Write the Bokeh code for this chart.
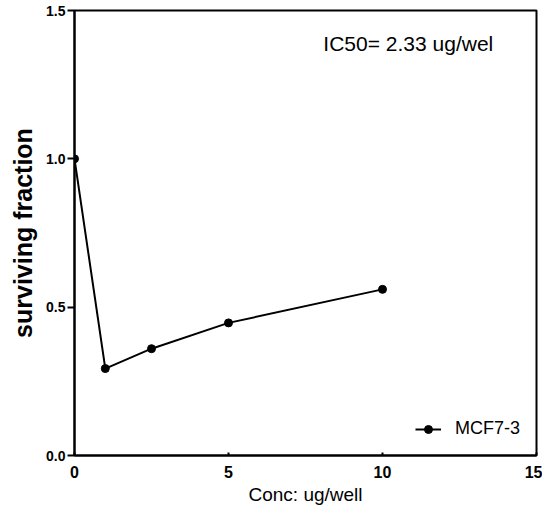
from bokeh.plotting import figure
from bokeh.models import Range1d, FixedTicker, Label, Legend, LegendItem, NumeralTickFormatter
from bokeh.embed import file_html
from bokeh.resources import INLINE

conc = [0, 1, 2.5, 5, 10]
surviving = [1.0, 0.293, 0.36, 0.447, 0.56]
x_ticks = [0, 5, 10, 15]
y_ticks = [0.0, 0.5, 1.0, 1.5]
series_name = "MCF7-3"
annotation = "IC50= 2.33 ug/wel"

p = figure(width=542, height=509, output_backend="svg", toolbar_location=None,
           x_range=Range1d(0, 15), y_range=Range1d(0, 1.5),
           min_border_left=74, min_border_right=6, min_border_top=10, min_border_bottom=54)
p.background_fill_color = "white"
p.border_fill_color = "white"
p.outline_line_color = "black"
p.outline_line_width = 2
p.xgrid.visible = False
p.ygrid.visible = False

line = p.line(conc, surviving, line_color="black", line_width=2)
pts = p.scatter(conc, surviving, size=8, color="black")

p.xaxis.ticker = FixedTicker(ticks=x_ticks)
p.yaxis.ticker = FixedTicker(ticks=y_ticks)
p.yaxis.formatter = NumeralTickFormatter(format="0.0")
for ax in (p.xaxis[0], p.yaxis[0]):
    ax.axis_line_width = 2
    ax.axis_line_color = "black"
    ax.major_tick_line_color = "black"
    ax.major_tick_line_width = 2
    ax.minor_tick_line_color = None
    ax.major_label_text_font = "Liberation Sans"
    ax.major_label_text_font_style = "bold"
    ax.major_label_text_color = "black"
    ax.axis_label_text_font = "Liberation Sans"
    ax.axis_label_text_color = "black"
p.yaxis.major_tick_out = 7
p.yaxis.major_tick_in = 0
p.yaxis.major_label_standoff = 2
p.xaxis.major_tick_out = 0
p.xaxis.major_tick_in = 3
p.xaxis.major_label_standoff = 10
p.yaxis.major_label_text_font_size = "14px"
p.xaxis.major_label_text_font_size = "16px"
p.xaxis.axis_label = "Conc: ug/well"
p.xaxis.axis_label_text_font_size = "19px"
p.xaxis.axis_label_text_font_style = "normal"
p.xaxis.axis_label_standoff = 3
p.yaxis.axis_label = "surviving fraction"
p.yaxis.axis_label_text_font_size = "25px"
p.yaxis.axis_label_text_font_style = "bold"
p.yaxis.axis_label_standoff = 6

lab = Label(x=8.08, y=1.389, text=annotation, text_font="Liberation Sans",
            text_font_size="21px", text_baseline="middle", text_align="left", text_color="black")
p.add_layout(lab)

legend = Legend(items=[LegendItem(label=series_name, renderers=[line, pts])],
                location="bottom_right", border_line_color=None, background_fill_alpha=0,
                label_text_font="Liberation Sans", label_text_font_size="18px",
                label_text_color="black",
                glyph_width=26, label_standoff=14, margin=16, padding=2)
p.add_layout(legend)

open("out.html", "w").write(file_html(p, INLINE))
